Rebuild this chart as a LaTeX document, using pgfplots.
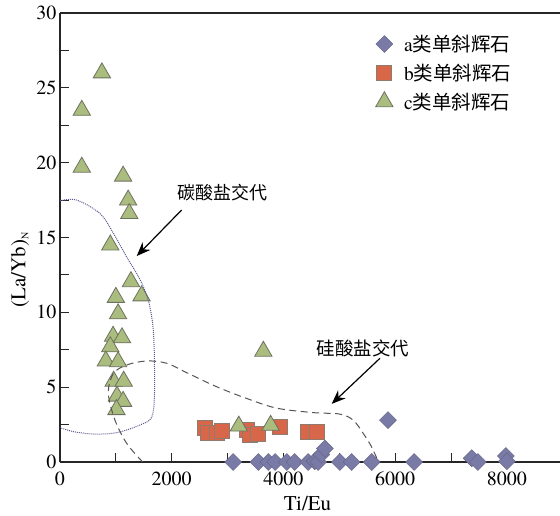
\documentclass[border=0pt]{standalone}
\usepackage{fontspec}
\setmainfont{TeX Gyre Termes}
\newfontfamily\cjk{Noto Sans CJK SC}
\usepackage{pgfplots}
\pgfplotsset{compat=1.18}
\usetikzlibrary{arrows.meta}
\definecolor{acol}{HTML}{7A7AA6}
\definecolor{bcol}{HTML}{D8674A}
\definecolor{bedge}{HTML}{8E7A6E}
\definecolor{ccol}{HTML}{AABD7E}
\definecolor{cedge}{HTML}{6E7060}
\definecolor{dotcol}{HTML}{5A5A90}
\definecolor{dashcol}{HTML}{555555}
\begin{document}
\begin{tikzpicture}
\path[use as bounding box] (-60bp,-54bp) rectangle (500bp,462bp);
\begin{axis}[
  at={(0,0)}, anchor=south west,
  scale only axis, width=500bp, height=449bp,
  xmin=0, xmax=8950, ymin=0, ymax=30,
  axis x line*=bottom, axis y line*=left,
  axis line style={line width=1.2bp, black!85},
  xtick={0,2000,4000,6000,8000},
  ytick={0,5,10,15,20,25,30},
  minor x tick num=1, minor y tick num=1,
  tick align=inside,
  major tick length=9bp, minor tick length=9bp,
  tick style={line width=1bp, black!85},
  /pgf/number format/assume math mode=true,
  /pgf/number format/1000 sep={},
  ticklabel style={font=\rmfamily\fontsize{20bp}{24bp}\selectfont},
  xticklabel style={yshift=-6bp},
  xlabel={Ti/Eu},
  ylabel={(La/Yb)\textsubscript{\fontsize{10bp}{10bp}\selectfont N}},
  label style={font=\rmfamily\fontsize{21bp}{24bp}\selectfont},
  xlabel style={at={(axis description cs:0.495,0)}, anchor=base, yshift=-48bp},
  ylabel style={at={(axis description cs:-0.08,0.428)}, anchor=center},
  clip mode=individual,
  legend style={draw=none, fill=none, at={(axis description cs:0.625,0.960)}, anchor=north west,
    font=\rmfamily\fontsize{19.5bp}{22bp}\selectfont, row sep=7bp,
    /tikz/every odd column/.append style={column sep=9bp}},
  legend cell align=left,
]
\addplot[only marks, mark=square*, mark size=6bp, mark options={rotate=45, fill=acol, draw=acol!80!black, line width=0.4bp}]
coordinates {
(3100,0) (3550,0) (3730,0) (3850,0) (4060,0) (4200,0) (4440,0) (4560,0.05) (4620,0)
(4680,0.5) (4740,0.9) (5010,0) (5220,0) (5580,0) (5870,2.8) (6340,0)
(7370,0.25) (7480,0) (7980,0.4) (8000,0.05)
};
\addlegendentry{a{\cjk 类单斜辉石}}
\addplot[only marks, mark=square*, mark size=7.5bp, mark options={fill=bcol, draw=bedge, line width=0.8bp}]
coordinates {
(2600,2.25) (2650,1.95) (2800,1.95) (2900,2.05) (3340,2.15) (3400,1.8) (3550,1.85)
(3940,2.35) (4440,2.0) (4590,2.0)
};
\addlegendentry{b{\cjk 类单斜辉石}}
\addplot[only marks, mark=triangle*, mark size=10bp, mark options={fill=ccol, draw=cedge, line width=0.8bp}]
coordinates {
(750,26.0) (390,23.5) (390,19.7) (1130,19.1) (1220,17.5) (1240,16.6) (900,14.5)
(1270,12.05) (1460,11.1) (1000,11.0) (1040,9.9) (950,8.4) (1110,8.3) (900,7.7)
(820,6.75) (1040,6.7) (960,5.4) (1140,5.4) (1020,4.4) (1130,4.05) (1010,3.5)
(3640,7.4) (3200,2.4) (3770,2.45)
};
\addlegendentry{c{\cjk 类单斜辉石}}
\addplot[smooth, tension=0.55, densely dotted, line width=1bp, color=dotcol, forget plot]
coordinates {
(0,17.45) (300,17.5) (716,16.6) (953,15.3) (1193,13.7) (1431,12.2) (1580,10.8)
(1658,9.27) (1682,7.93) (1690,6.8) (1690,4.36) (1640,2.98) (1431,2.47) (1014,1.96)
(596,1.87) (238,2.03) (0,2.3)
};
\addplot[smooth, tension=0.55, dash pattern=on 7bp off 4.5bp, line width=1bp, color=dashcol, forget plot]
coordinates {
(1480,0) (1193,1.25) (984,2.8) (865,4.6) (954,5.9) (1193,6.48) (1550,6.75) (1908,6.6)
(2250,6.0) (2803,5.03) (3339,4.25) (3876,3.6) (4531,3.3) (5009,3.2) (5247,2.8)
(5426,1.92) (5576,1.02) (5700,0)
};
\draw[line width=1.2bp, black!85] (rel axis cs:0,1) -- (rel axis cs:1,1);
\draw[-{Stealth[length=14bp,width=11bp]}, line width=1.2bp] (axis cs:2178,16.84) -- (axis cs:1373,13.76);
\draw[-{Stealth[length=14bp,width=11bp]}, line width=1.2bp] (axis cs:5727,6.93) -- (axis cs:4863,3.88);
\node[font=\cjk\fontsize{18bp}{20bp}\selectfont] at (axis cs:2900,17.97) {碳酸盐交代};
\node[font=\cjk\fontsize{18.5bp}{20bp}\selectfont] at (axis cs:5423,7.58) {硅酸盐交代};
\end{axis}
\end{tikzpicture}
\end{document}
